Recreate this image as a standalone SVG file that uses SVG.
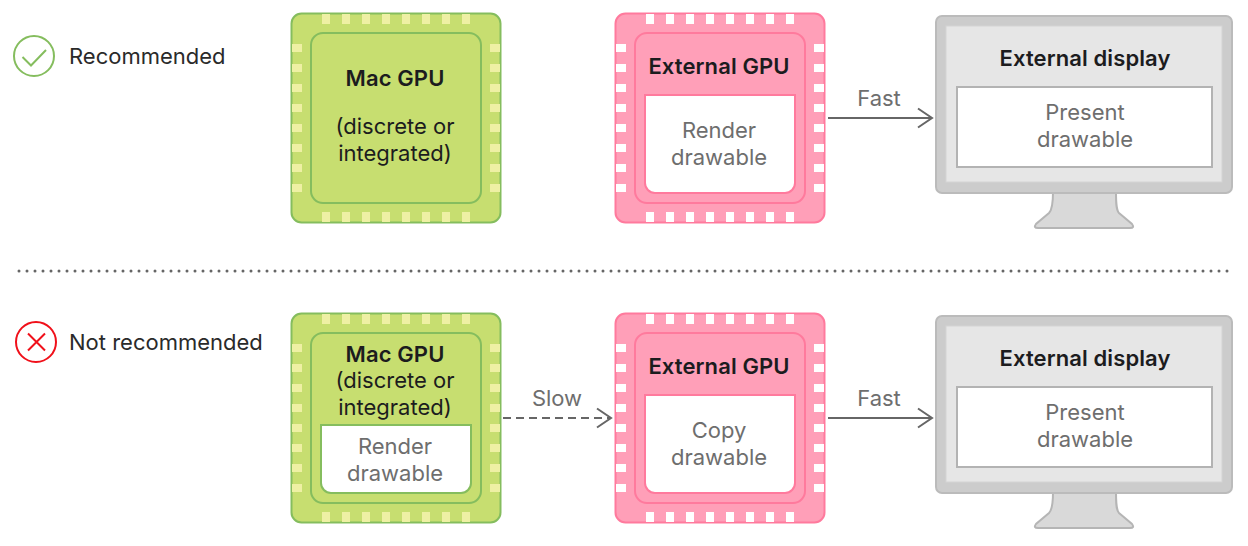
<svg xmlns="http://www.w3.org/2000/svg" xmlns:xlink="http://www.w3.org/1999/xlink" width="1248" height="546" viewBox="0 0 1248 546">
<style>
text{font-family:Inter,"Noto Sans","Liberation Sans",sans-serif;font-size:22px;text-anchor:middle}
.b{font-weight:600;fill:#1c1c1e;letter-spacing:.1px}
.k{fill:#1c1c1e}
.g{fill:#6e6e6e}
.l{text-anchor:start;fill:#2a2a2a}
.gc{fill:#c7de70;stroke:#85bd5e;stroke-width:2}
.pc{fill:#ff9fb8;stroke:#ff7a9d;stroke-width:2}
.gw{fill:#fff;stroke:#85bd5e;stroke-width:2}
.pw{fill:#fff;stroke:#ff7a9d;stroke-width:2}
.gp{fill:#eef0a4}
.pp{fill:#fff}
.conn{fill:none;stroke:#666;stroke-width:2}
</style>
<defs>
<marker id="arrow" markerUnits="userSpaceOnUse" markerWidth="20" markerHeight="24" refX="16" refY="12" orient="auto"><path d="M2 2.500L16 12L2 21.500" fill="none" stroke="#666" stroke-width="2"/></marker>
<g id="pins">
<path d="M0 0h8v10h-8zM20 0h8v10h-8zM40 0h8v10h-8zM60 0h8v10h-8zM80 0h8v10h-8zM100 0h8v10h-8zM120 0h8v10h-8zM140 0h8v10h-8z"/>
<path d="M0 198h8v10h-8zM20 198h8v10h-8zM40 198h8v10h-8zM60 198h8v10h-8zM80 198h8v10h-8zM100 198h8v10h-8zM120 198h8v10h-8zM140 198h8v10h-8z"/>
<path d="M-30 30h10v8h-10zM-30 50h10v8h-10zM-30 70h10v8h-10zM-30 90h10v8h-10zM-30 110h10v8h-10zM-30 130h10v8h-10zM-30 150h10v8h-10zM-30 170h10v8h-10z"/>
<path d="M168 30h10v8h-10zM168 50h10v8h-10zM168 70h10v8h-10zM168 90h10v8h-10zM168 110h10v8h-10zM168 130h10v8h-10zM168 150h10v8h-10zM168 170h10v8h-10z"/>
</g>
<g id="monitor">
<path d="M1053 192C1053 202 1052 210 1049 213L1036 224Q1033 228 1038 228H1130Q1135 228 1132 224L1119 213C1116 210 1116 202 1116 192Z" fill="#d9d9d9" stroke="#b5b5b5" stroke-width="2"/>
<rect x="936" y="16" width="296" height="177" rx="6" fill="#ccc" stroke="#bbb" stroke-width="2"/>
<rect x="946" y="26" width="276" height="156" fill="#e6e6e6" stroke="#d4d4d4" stroke-width="1"/>
<rect x="957" y="87" width="255" height="80" fill="#fff" stroke="#b3b3b3" stroke-width="2"/>
</g>
</defs>

<g id="recommended-label">
<circle cx="34" cy="56" r="20" fill="none" stroke="#85bd5e" stroke-width="2"/>
<path d="M22.500 57L31 65.500L46 50" fill="none" stroke="#85bd5e" stroke-width="2"/>
<text class="l" x="69" y="64">Recommended</text>
</g>

<g id="mac-gpu-1">
<rect class="gc" x="291.500" y="13.500" width="209" height="209" rx="10"/>
<use href="#pins" x="322" y="14" class="gp"/>
<rect class="gc" x="311" y="33" width="170" height="170" rx="12"/>
<text class="b" x="395" y="86">Mac GPU</text>
<text class="k" x="395" y="134">(discrete or</text>
<text class="k" x="395" y="161">integrated)</text>
</g>

<g id="external-gpu-1">
<rect class="pc" x="615.500" y="13.500" width="209" height="209" rx="10"/>
<use href="#pins" x="646" y="14" class="pp"/>
<rect class="pc" x="635" y="33" width="170" height="170" rx="12"/>
<path class="pw" d="M645 95H795V183a10 10 0 0 1-10 10H655a10 10 0 0 1-10-10Z"/>
<text class="b" x="719" y="74">External GPU</text>
<text class="g" x="719" y="138">Render</text>
<text class="g" x="719" y="165">drawable</text>
</g>

<g id="external-display-1">
<use href="#monitor"/>
<text class="b" x="1085" y="66">External display</text>
<text class="g" x="1085" y="120">Present</text>
<text class="g" x="1085" y="147">drawable</text>
</g>

<path id="divider" d="M19 271H1230" fill="none" stroke="#666" stroke-width="3" stroke-linecap="round" stroke-dasharray="0 8"/>

<g id="not-recommended-label">
<circle cx="36" cy="342" r="20" fill="none" stroke="#f0101a" stroke-width="2"/>
<path d="M28 333.500L45 350.500M45 333.500L28 350.500" fill="none" stroke="#f0101a" stroke-width="2"/>
<text class="l" x="69" y="350">Not recommended</text>
</g>

<g id="mac-gpu-2">
<rect class="gc" x="291.500" y="313.500" width="209" height="209" rx="10"/>
<use href="#pins" x="322" y="314" class="gp"/>
<rect class="gc" x="311" y="333" width="170" height="170" rx="12"/>
<path class="gw" d="M321 425H471V483a10 10 0 0 1-10 10H331a10 10 0 0 1-10-10Z"/>
<text class="b" x="395" y="362">Mac GPU</text>
<text class="k" x="395" y="388">(discrete or</text>
<text class="k" x="395" y="415">integrated)</text>
<text class="g" x="395" y="454">Render</text>
<text class="g" x="395" y="481">drawable</text>
</g>

<g id="external-gpu-2">
<rect class="pc" x="615.500" y="313.500" width="209" height="209" rx="10"/>
<use href="#pins" x="646" y="314" class="pp"/>
<rect class="pc" x="635" y="333" width="170" height="170" rx="12"/>
<path class="pw" d="M645 395H795V483a10 10 0 0 1-10 10H655a10 10 0 0 1-10-10Z"/>
<text class="b" x="719" y="374">External GPU</text>
<text class="g" x="719" y="438">Copy</text>
<text class="g" x="719" y="465">drawable</text>
</g>

<g id="external-display-2">
<use href="#monitor" y="300"/>
<text class="b" x="1085" y="366">External display</text>
<text class="g" x="1085" y="420">Present</text>
<text class="g" x="1085" y="447">drawable</text>
</g>

<g id="connectors">
<path class="conn" d="M828 118H932" marker-end="url(#arrow)"/>
<path class="conn" d="M503 418H611" stroke-dasharray="8 5" marker-end="url(#arrow)"/>
<path class="conn" d="M828 418H932" marker-end="url(#arrow)"/>
<text class="g" x="879" y="106">Fast</text>
<text class="g" x="557" y="406">Slow</text>
<text class="g" x="879" y="406">Fast</text>
</g>
</svg>
